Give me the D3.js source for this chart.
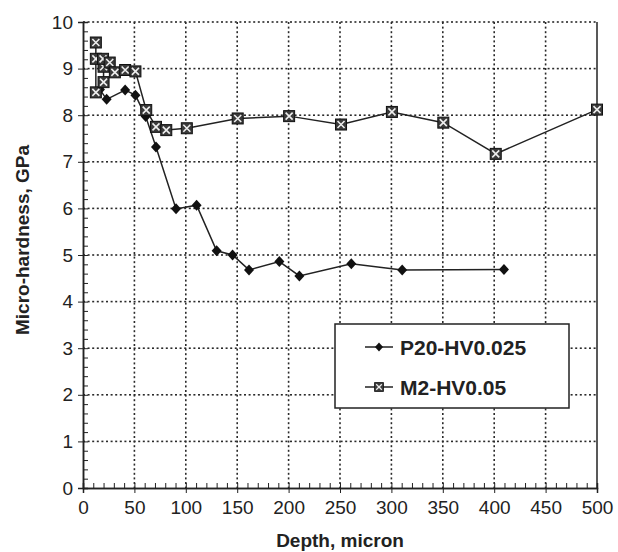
<!DOCTYPE html>
<html lang="en">
<head>
  <meta charset="UTF-8">
  <title>Micro-hardness vs depth</title>
</head>
<body style="margin:0">
<script src="https://cdn.jsdelivr.net/npm/d3@7"></script>
<script>
  // P20-HV0.025 (diamonds)
  var p20Depth = [16.5, 23, 41, 51, 61, 71, 90.5, 110.5, 130, 145.5, 161.5, 191, 210.5, 261, 310.5, 409.5]
  var p20Hard  = [8.55, 8.34, 8.54, 8.43, 7.97, 7.32, 5.99, 6.07, 5.09, 5.0, 4.68, 4.86, 4.55, 4.81, 4.68, 4.69]
  // M2-HV0.05 (crossed squares)
  var m2Depth = [12.5, 12.5, 12.5, 20, 20, 19.5, 26, 31, 41, 51, 61.5, 71, 81, 101, 150.5, 200.5, 251, 300.5, 350.5, 401.5, 500]
  var m2Hard  = [9.56, 9.21, 8.49, 8.71, 9.04, 9.21, 9.13, 8.92, 8.97, 8.94, 8.11, 7.75, 7.68, 7.72, 7.93, 7.98, 7.8, 8.07, 7.84, 7.17, 8.12]

  var xTicks = [0, 50, 100, 150, 200, 250, 300, 350, 400, 450, 500]
  var yTicks = [0, 1, 2, 3, 4, 5, 6, 7, 8, 9, 10]
  var seriesNames = ['P20-HV0.025', 'M2-HV0.05']

  var W = 618, H = 552
  var left = 83, right = 597, top0 = 22, bottom = 488
  var ink = '#222'
  var font = '"Liberation Sans", Arial, sans-serif'

  var xs = d3.scaleLinear().domain([0, 500]).range([left, right])
  var ys = d3.scaleLinear().domain([0, 10]).range([bottom, top0])

  var svg = d3.select('body').append('svg')
    .attr('width', W)
    .attr('height', H)
    .style('font-family', font)

  // dotted grid made of small dots
  var step = 4.6
  var gridDots = []
  xTicks.slice(1, -1).forEach(function (t) {
    d3.range(top0, bottom, step).forEach(p => gridDots.push({x: xs(t) - 0.8, y: p, w: 1.6, h: 2}))
  })
  yTicks.slice(1).forEach(function (t) {
    d3.range(left, right, step).forEach(p => gridDots.push({x: p, y: ys(t) - 0.8, w: 2, h: 1.6}))
  })
  svg.append('g').attr('fill', '#2a2a2a')
    .selectAll('rect').data(gridDots).enter().append('rect')
    .attr('x', d => d.x).attr('y', d => d.y).attr('width', d => d.w).attr('height', d => d.h)

  // axes: major ticks with labels + minor ticks inside
  var xAxis = d3.axisBottom(xs).tickValues(xTicks).tickSize(5).tickPadding(8)
  var xMinor = d3.axisBottom(xs).tickValues(d3.range(0, 501, 10)).tickSize(-5).tickFormat('')
  var yAxis = d3.axisLeft(ys).tickValues(yTicks).tickSize(5).tickPadding(5)
  var yMinor = d3.axisLeft(ys).tickValues(d3.range(0, 10.01, 0.2)).tickSize(-5).tickFormat('')

  function styleAxis(g) {
    g.attr('font-family', font)
    g.select('.domain').attr('stroke', ink).attr('stroke-width', 1.5)
    g.selectAll('.tick line').attr('stroke', ink).attr('stroke-width', 1)
    g.selectAll('.tick text').attr('fill', ink).style('font-size', '19px')
  }

  svg.append('g').attr('transform', `translate(0,${bottom})`).call(xMinor).call(styleAxis)
  svg.append('g').attr('transform', `translate(0,${bottom})`).call(xAxis).call(styleAxis)
  svg.append('g').attr('transform', `translate(${left},0)`).call(yMinor).call(styleAxis)
  svg.append('g').attr('transform', `translate(${left},0)`).call(yAxis).call(styleAxis)

  // right border
  svg.append('line')
    .attr('x1', right).attr('x2', right).attr('y1', top0).attr('y2', bottom)
    .attr('stroke', ink).attr('stroke-width', 1.5)

  // axis titles
  svg.append('text')
    .attr('x', (left + right) / 2).attr('y', 547)
    .attr('text-anchor', 'middle').attr('fill', ink)
    .style('font-size', '19px').style('font-weight', 'bold')
    .text('Depth, micron')
  svg.append('text')
    .attr('transform', `translate(29,${(top0 + bottom) / 2 - 15}) rotate(-90)`)
    .attr('text-anchor', 'middle').attr('fill', ink)
    .style('font-size', '19px').style('font-weight', 'bold')
    .text('Micro-hardness, GPa')

  var lineGen = d3.line().x(d => xs(d[0])).y(d => ys(d[1]))
  var p20 = p20Depth.map((d, i) => [d, p20Hard[i]])
  var m2 = m2Depth.map((d, i) => [d, m2Hard[i]])

  function diamond(g) {
    g.append('path').attr('d', 'M0,-5.5L5,0L0,5.5L-5,0Z').attr('fill', '#111')
  }
  function xSquare(g) {
    g.append('rect').attr('x', -5.5).attr('y', -5.5).attr('width', 11).attr('height', 11)
      .attr('fill', '#3a3a3a').attr('stroke', '#111').attr('stroke-width', 1)
    g.append('path').attr('d', 'M-3.5,-3.5L3.5,3.5M3.5,-3.5L-3.5,3.5')
      .attr('stroke', '#eee').attr('stroke-width', 1.6)
  }

  svg.append('path').datum(p20).attr('d', lineGen)
    .attr('fill', 'none').attr('stroke', ink).attr('stroke-width', 1.5)
  svg.append('path').datum(m2).attr('d', lineGen)
    .attr('fill', 'none').attr('stroke', ink).attr('stroke-width', 1.5)

  svg.append('g').selectAll('g').data(p20).enter().append('g')
    .attr('transform', d => `translate(${xs(d[0])},${ys(d[1])})`)
    .each(function () { diamond(d3.select(this)) })
  svg.append('g').selectAll('g').data(m2).enter().append('g')
    .attr('transform', d => `translate(${xs(d[0])},${ys(d[1])})`)
    .each(function () { xSquare(d3.select(this)) })

  // legend
  var lg = svg.append('g').attr('transform', 'translate(335,324)')
  lg.append('rect').attr('width', 234).attr('height', 84)
    .attr('fill', '#fff').attr('stroke', ink).attr('stroke-width', 1.5)
  var markers = [diamond, xSquare]
  seriesNames.forEach(function (name, i) {
    var row = lg.append('g').attr('transform', `translate(0,${23 + i * 40})`)
    row.append('line').attr('x1', 30).attr('x2', 58).attr('y1', 0).attr('y2', 0)
      .attr('stroke', ink).attr('stroke-width', 1.5)
    var m = row.append('g').attr('transform', 'translate(44,0) scale(0.8)')
    markers[i](m)
    row.append('text').attr('x', 65).attr('y', 7.5).attr('fill', ink)
      .style('font-size', '21px').style('font-weight', 'bold')
      .text(name)
  })
</script>
</body>
</html>
